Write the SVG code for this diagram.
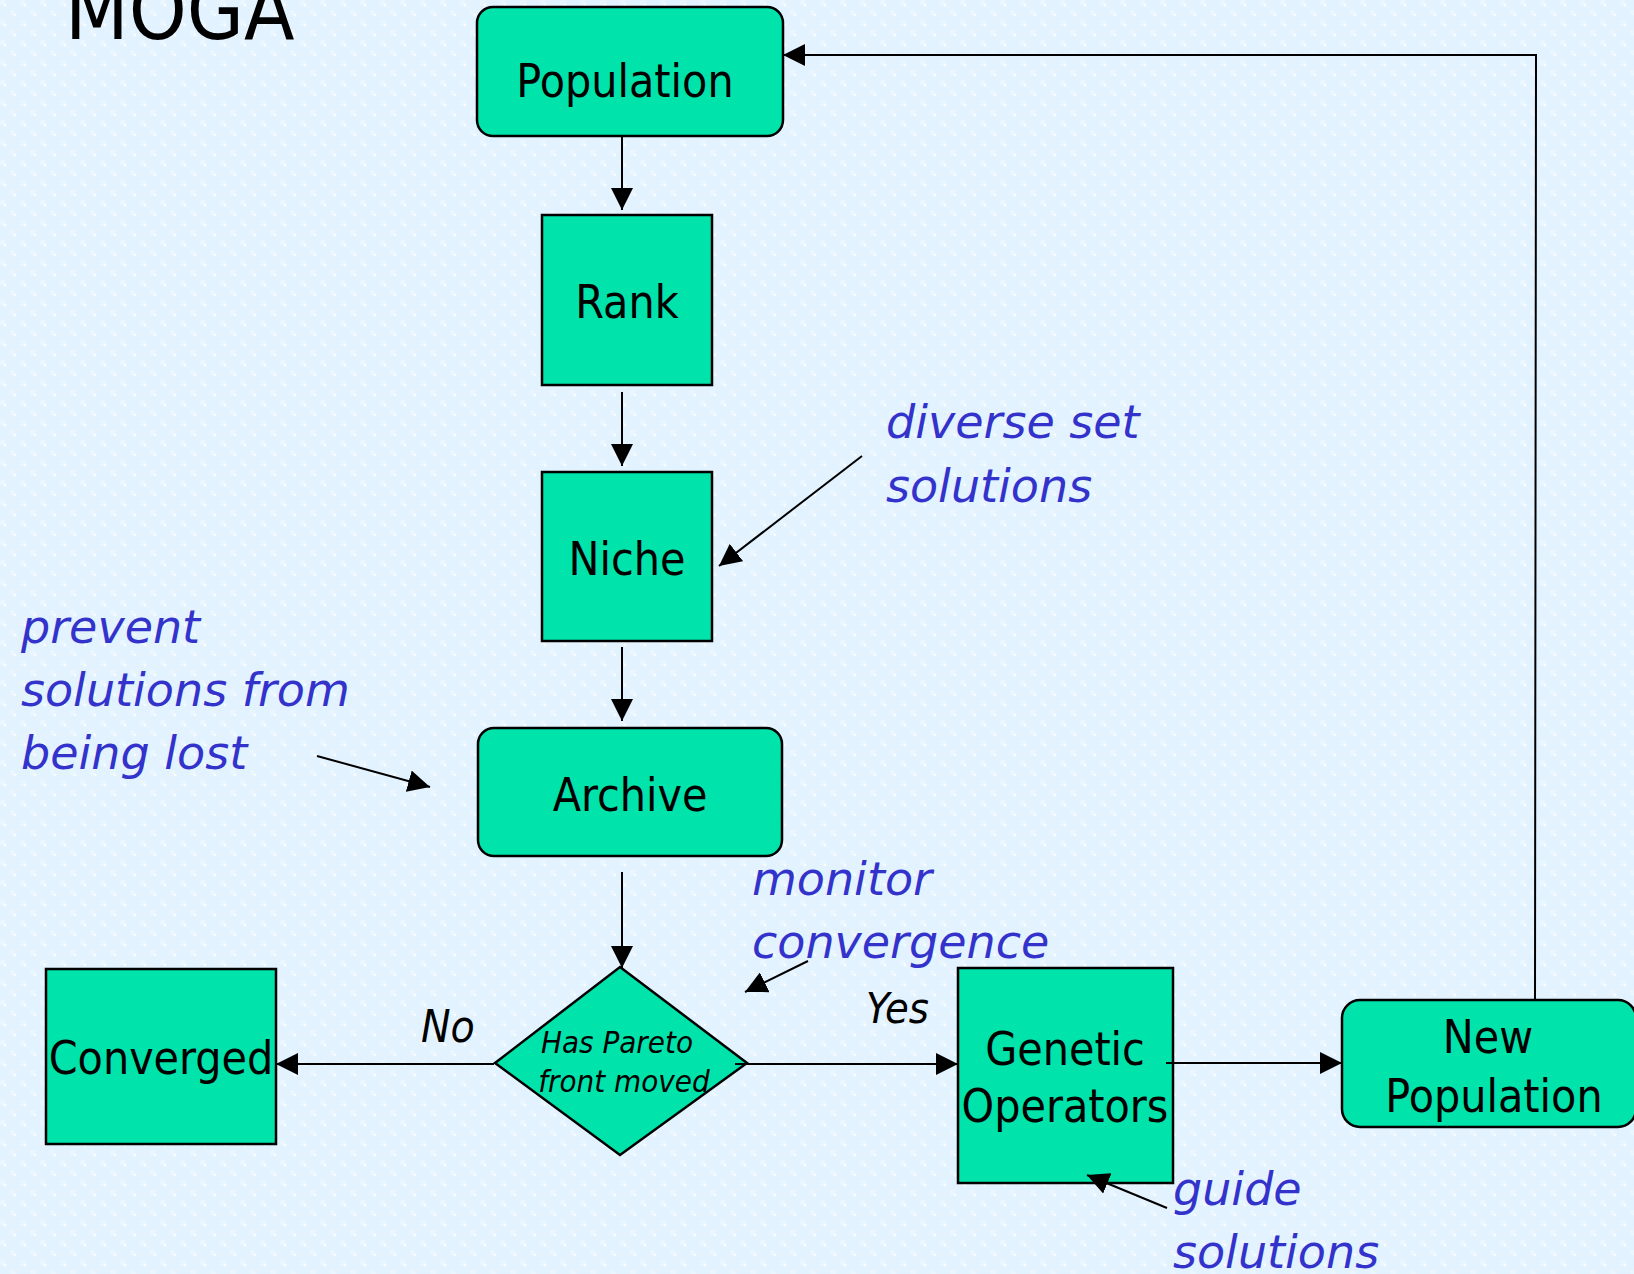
<svg xmlns="http://www.w3.org/2000/svg" width="1634" height="1274" viewBox="0 0 1634 1274">
<defs>
<pattern id="bg" width="20" height="20" patternUnits="userSpaceOnUse">
<rect width="20" height="20" fill="#e2f2fe"/>
<rect x="0" y="0" width="5" height="5" fill="#eaf6ff"/>
<rect x="10" y="10" width="5" height="5" fill="#eaf6ff"/>
<path d="M5 3.5v3M3.5 5h3M15 13.5v3M13.5 15h3" stroke="#ffffff" stroke-width="1.2"/>
</pattern>
<marker id="ah" markerUnits="userSpaceOnUse" markerWidth="22" markerHeight="22" viewBox="0 0 20 20" refX="20" refY="10" orient="auto">
<path d="M0,0 L20,10 L0,20 Z" fill="#000"/>
</marker>
<style>
.node{fill:#00e3ab;stroke:#000;stroke-width:2.5}
.lbl{font-family:"DejaVu Sans Condensed","DejaVu Sans",sans-serif;font-stretch:condensed;font-size:46px;fill:#000;text-anchor:middle}
.it{font-family:"DejaVu Sans Condensed","DejaVu Sans",sans-serif;font-stretch:condensed;font-style:italic;fill:#000}
.note{font-family:"DejaVu Sans",sans-serif;font-style:italic;font-size:46px;fill:#3333cc}
.con{stroke:#000;stroke-width:2;fill:none}
</style>
</defs>
<rect width="1634" height="1274" fill="url(#bg)"/>
<text x="65" y="39" font-family="DejaVu Sans Condensed, DejaVu Sans, sans-serif" font-stretch="condensed" font-size="82" fill="#000">MOGA</text>

<g id="population">
<rect class="node" x="477" y="7" width="306" height="129" rx="16"/>
<text class="lbl" x="625" y="97">Population</text>
</g>
<g id="rank">
<rect class="node" x="542" y="215" width="170" height="170"/>
<text class="lbl" x="627" y="318">Rank</text>
</g>
<g id="niche">
<rect class="node" x="542" y="472" width="170" height="169"/>
<text class="lbl" x="627" y="575">Niche</text>
</g>
<g id="archive">
<rect class="node" x="478" y="728" width="304" height="128" rx="16"/>
<text class="lbl" x="630" y="811">Archive</text>
</g>
<g id="decision">
<polygon class="node" points="620,967 747,1063 620,1155 495,1063"/>
<text class="it" font-size="31" x="617" y="1053" text-anchor="middle">Has Pareto</text>
<text class="it" font-size="31" x="624" y="1092" text-anchor="middle">front moved</text>
</g>
<g id="converged">
<rect class="node" x="46" y="969" width="230" height="175"/>
<text class="lbl" x="161" y="1074">Converged</text>
</g>
<g id="genetic">
<rect class="node" x="958" y="968" width="215" height="215"/>
<text class="lbl" x="1065" y="1065">Genetic</text>
<text class="lbl" x="1065" y="1122">Operators</text>
</g>
<g id="newpop">
<rect class="node" x="1342" y="1000" width="294" height="127" rx="18"/>
<text class="lbl" x="1488" y="1053">New</text>
<text class="lbl" x="1494" y="1112">Population</text>
</g>

<g id="connectors">
<line class="con" x1="622" y1="136" x2="622" y2="210" marker-end="url(#ah)"/>
<line class="con" x1="622" y1="392" x2="622" y2="466" marker-end="url(#ah)"/>
<line class="con" x1="622" y1="647" x2="622" y2="721" marker-end="url(#ah)"/>
<line class="con" x1="622" y1="872" x2="622" y2="968" marker-end="url(#ah)"/>
<line class="con" x1="494" y1="1064" x2="276" y2="1064" marker-end="url(#ah)"/>
<line class="con" x1="735" y1="1064" x2="958" y2="1064" marker-end="url(#ah)"/>
<line class="con" x1="1166" y1="1063" x2="1342" y2="1063" marker-end="url(#ah)"/>
<polyline class="con" points="1535,1000 1536,55 783,55" marker-end="url(#ah)"/>
<line class="con" x1="862" y1="456" x2="719" y2="566" marker-end="url(#ah)"/>
<line class="con" x1="317" y1="756" x2="430" y2="787" marker-end="url(#ah)"/>
<line class="con" x1="808" y1="961" x2="745" y2="992" marker-end="url(#ah)"/>
<line class="con" x1="1167" y1="1208" x2="1087" y2="1175" marker-end="url(#ah)"/>
</g>

<g id="labels">
<text class="it" font-size="44" x="421" y="1042">No</text>
<text class="it" font-size="43" x="866" y="1023">Yes</text>
</g>
<g id="notes">
<text class="note" x="886" y="438">diverse set</text>
<text class="note" x="886" y="502">solutions</text>
<text class="note" x="21" y="643">prevent</text>
<text class="note" x="21" y="706">solutions from</text>
<text class="note" x="21" y="769">being lost</text>
<text class="note" x="752" y="895">monitor</text>
<text class="note" x="752" y="958">convergence</text>
<text class="note" x="1173" y="1205">guide</text>
<text class="note" x="1173" y="1268">solutions</text>
</g>
</svg>
